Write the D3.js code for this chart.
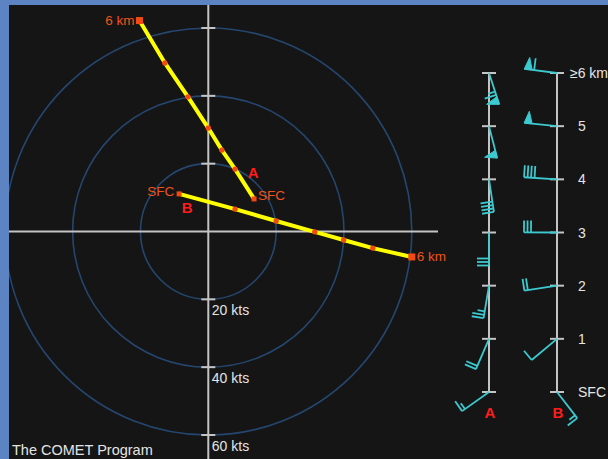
<!DOCTYPE html>
<html><head><meta charset="utf-8">
<script src="https://cdn.jsdelivr.net/npm/d3@7"></script>
<style>html,body{margin:0;padding:0;background:#5c84c2;}svg{display:block;}</style>
</head><body>
<svg id="c" width="608" height="459"></svg>
<script>
// ---- data (knots; u = east, v = north) ----
const levelLabels = ["SFC", "1", "2", "3", "4", "5", "\u22656 km"];
const levelKm = [0, 1, 2, 3, 4, 5, 6];
const hodoA_u = [13.5, 7.9, 4.0, 0.0, -6.0, -12.8, -20.3];
const hodoA_v = [9.6, 18.4, 24.0, 30.5, 39.7, 49.7, 62.2];
const hodoB_u = [-8.6, 7.9, 20.0, 31.4, 39.9, 48.5, 60.0];
const hodoB_v = [11.1, 6.6, 3.1, -0.1, -2.5, -4.9, -7.5];
const ringSpeeds = [20, 40, 60];
const ringLabels = ["20 kts", "40 kts", "60 kts"];

const svg = d3.select("#c");
const W = 608, H = 459;
const FONT = "'Liberation Sans', Arial, sans-serif";

// panel
svg.append("rect").attr("x", 0).attr("y", 0).attr("width", W).attr("height", H).attr("fill", "#5c84c2");
svg.append("defs").append("clipPath").attr("id", "pc")
  .append("rect").attr("x", 9).attr("y", 5).attr("width", W - 9).attr("height", H - 5);
const root = svg.append("g").attr("clip-path", "url(#pc)");
root.append("rect").attr("x", 9).attr("y", 5).attr("width", W - 9).attr("height", H - 5).attr("fill", "#151515");

// ---- hodograph ----
const cx = 208.3, cy = 231.5, R = 203.5;
const x = d3.scaleLinear().domain([-60, 60]).range([cx - R, cx + R]);
const y = d3.scaleLinear().domain([-60, 60]).range([cy + R, cy - R]);
const r = d3.scaleLinear().domain([0, 60]).range([0, R]);

const hodo = root.append("g");
hodo.selectAll("circle.ring").data(ringSpeeds).join("circle")
  .attr("cx", x(0)).attr("cy", y(0)).attr("r", d => r(d))
  .attr("fill", "none").attr("stroke", "#25466e").attr("stroke-width", 1.6);

// axes
hodo.append("line").attr("x1", 9).attr("x2", 438).attr("y1", y(0)).attr("y2", y(0))
  .attr("stroke", "#c4c4c4").attr("stroke-width", 2);
hodo.append("line").attr("x1", x(0)).attr("x2", x(0)).attr("y1", 5).attr("y2", H)
  .attr("stroke", "#c4c4c4").attr("stroke-width", 2);
const tickVals = ringSpeeds.flatMap(s => [s, -s]);
hodo.selectAll("line.tk").data(tickVals).join("line")
  .attr("x1", x(0) - 7).attr("x2", x(0) + 7).attr("y1", d => y(d)).attr("y2", d => y(d))
  .attr("stroke", "#c4c4c4").attr("stroke-width", 2);
hodo.selectAll("text.rl").data(ringSpeeds).join("text")
  .attr("x", x(0) + 3.5).attr("y", (d) => y(-d) + 16)
  .text((d, i) => ringLabels[i])
  .attr("fill", "#e4e4e4").attr("font-family", FONT).attr("font-size", 14);

// hodograph traces
function trace(us, vs) {
  const pts = us.map((u, i) => [x(u), y(vs[i])]);
  hodo.append("path").attr("d", d3.line()(pts)).attr("fill", "none")
    .attr("stroke", "#ffff00").attr("stroke-width", 4);
  hodo.selectAll(null).data(pts.slice(1, -1)).join("circle")
    .attr("cx", d => d[0]).attr("cy", d => d[1]).attr("r", 2.7).attr("fill", "#f24a10");
  const s = pts[0], e = pts[pts.length - 1];
  hodo.append("rect").attr("x", s[0] - 2.5).attr("y", s[1] - 2.5).attr("width", 5).attr("height", 5).attr("fill", "#f24a10");
  hodo.append("rect").attr("x", e[0] - 3.5).attr("y", e[1] - 3.5).attr("width", 7).attr("height", 7).attr("fill", "#f24a10");
  return pts;
}
const pA = trace(hodoA_u, hodoA_v);
const pB = trace(hodoB_u, hodoB_v);

const lab = (t, px, py, anchor, col, size, weight) => hodo.append("text")
  .attr("x", px).attr("y", py).attr("text-anchor", anchor).text(t)
  .attr("fill", col).attr("font-family", FONT).attr("font-size", size).attr("font-weight", weight || "normal");
const ORG = "#ee5418", RED = "#ff1c1c";
lab("6 km", pA[6][0] - 5, pA[6][1] + 4.5, "end", ORG, 13.5);
lab("SFC", pA[0][0] + 4, pA[0][1] + 1, "start", ORG, 13.5);
lab("A", pA[0][0] - 1, pA[0][1] - 21, "middle", RED, 15, "bold");
lab("SFC", pB[0][0] - 5, pB[0][1] + 2, "end", ORG, 13.5);
lab("B", pB[0][0] + 8, pB[0][1] + 19, "middle", RED, 15, "bold");
lab("6 km", pB[6][0] + 5, pB[6][1] + 4.5, "start", ORG, 13.5);

root.append("text").attr("x", 12).attr("y", 455).text("The COMET Program")
  .attr("fill", "#e4e4e4").attr("font-family", FONT).attr("font-size", 14.5);

// ---- vertical wind profiles ----
const z = d3.scaleLinear().domain([0, 6]).range([392, 73]);
const prof = root.append("g");
const colX = [489, 557];
colX.forEach(cxp => {
  prof.append("line").attr("x1", cxp).attr("x2", cxp).attr("y1", z(0)).attr("y2", z(6))
    .attr("stroke", "#c4c4c4").attr("stroke-width", 2);
  prof.selectAll(null).data(levelKm).join("line")
    .attr("x1", cxp - 7).attr("x2", cxp + 7).attr("y1", d => z(d)).attr("y2", d => z(d))
    .attr("stroke", "#c4c4c4").attr("stroke-width", 2);
});
prof.selectAll("text.lv").data(levelKm).join("text")
  .attr("x", (d, i) => i === 6 ? 570 : 578).attr("y", d => z(d) + 5)
  .text((d, i) => levelLabels[i])
  .attr("fill", "#e4e4e4").attr("font-family", FONT).attr("font-size", 14);
prof.append("text").attr("x", colX[0] + 1).attr("y", 418).attr("text-anchor", "middle").text("A")
  .attr("fill", RED).attr("font-family", FONT).attr("font-size", 15).attr("font-weight", "bold");
prof.append("text").attr("x", colX[1] + 1).attr("y", 418).attr("text-anchor", "middle").text("B")
  .attr("fill", RED).attr("font-family", FONT).attr("font-size", 15).attr("font-weight", "bold");

const CY = "#3cc9cf";
function barb(g, x0, y0, u, v) {
  const spd = Math.hypot(u, v);
  const L = 33, BL = 12, step = 3.5;
  const dx = -u / spd, dy = v / spd;      // staff points to where wind comes from
  const px = -dy, py = dx;                // barb side
  const tx = x0 + dx * L, ty = y0 + dy * L;
  g.append("line").attr("x1", x0).attr("y1", y0).attr("x2", tx).attr("y2", ty)
    .attr("stroke", CY).attr("stroke-width", 1.8);
  let s = Math.round(spd / 5) * 5;
  let pos = L;
  const at = p => [x0 + dx * p, y0 + dy * p];
  while (s >= 50) {
    const a = at(pos), b = at(pos - 8), m = at(pos - 4);
    g.append("path").attr("d", `M${a[0]},${a[1]}L${m[0] + px * 12},${m[1] + py * 12}L${b[0]},${b[1]}Z`)
      .attr("fill", CY).attr("stroke", CY).attr("stroke-width", 1);
    pos -= 10; s -= 50;
  }
  while (s >= 10) {
    const a = at(pos);
    g.append("line").attr("x1", a[0]).attr("y1", a[1]).attr("x2", a[0] + px * BL).attr("y2", a[1] + py * BL)
      .attr("stroke", CY).attr("stroke-width", 1.8);
    pos -= step; s -= 10;
  }
  if (s >= 5) {
    const a = at(pos);
    g.append("line").attr("x1", a[0]).attr("y1", a[1]).attr("x2", a[0] + px * BL * 0.6).attr("y2", a[1] + py * BL * 0.6)
      .attr("stroke", CY).attr("stroke-width", 1.8);
  }
}
const bg = root.append("g");
levelKm.forEach((k, i) => {
  barb(bg, colX[0], z(k), hodoA_u[i], hodoA_v[i]);
  barb(bg, colX[1], z(k), hodoB_u[i], hodoB_v[i]);
});
</script>
</body></html>
